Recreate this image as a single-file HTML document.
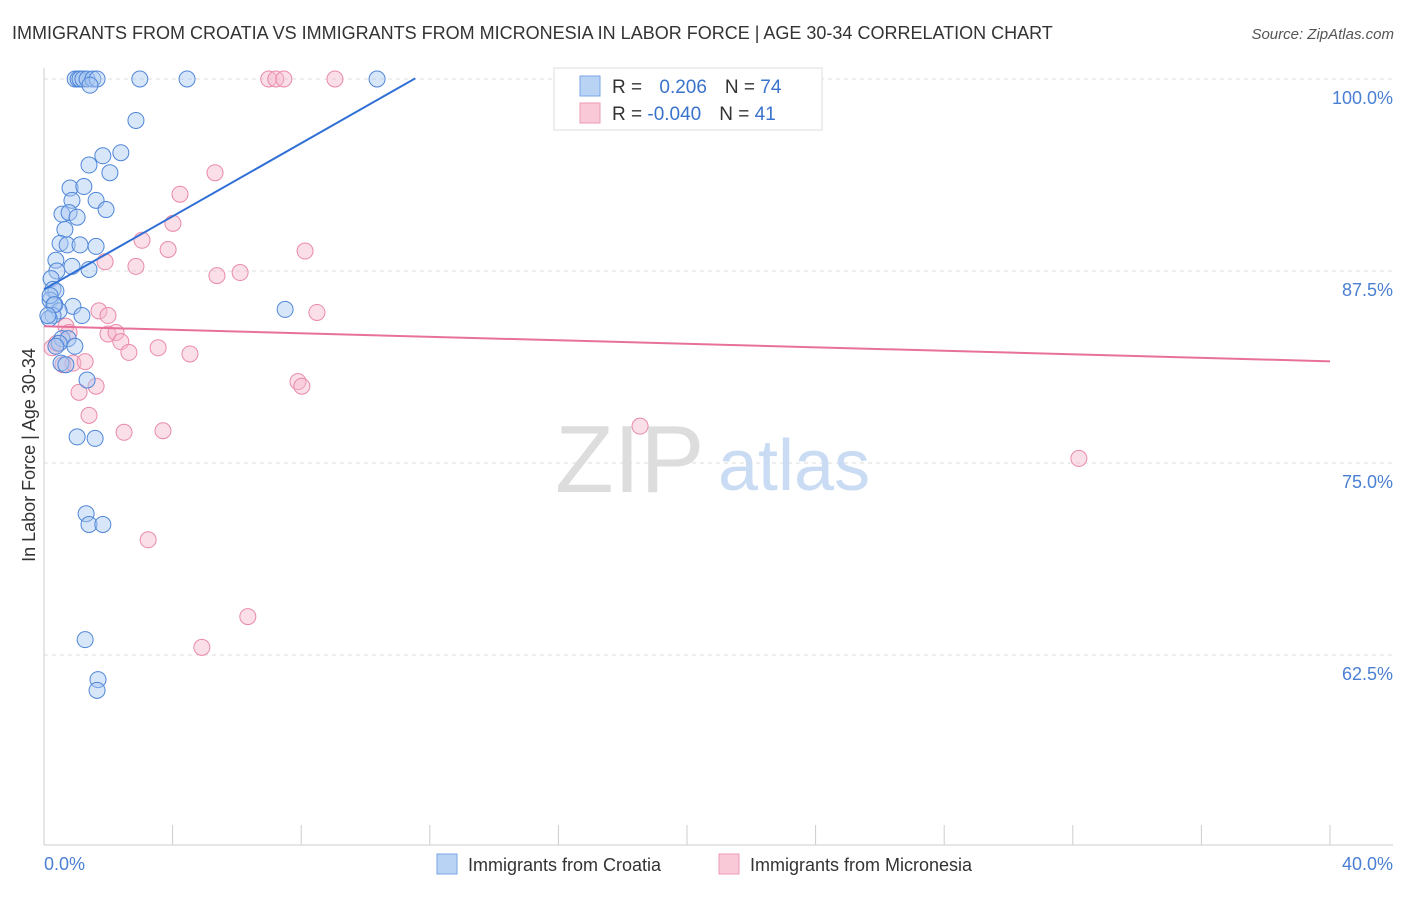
<!DOCTYPE html>
<html><head><meta charset="utf-8"><style>
body{margin:0;background:#fff;font-family:"Liberation Sans",sans-serif;}
svg text{font-family:"Liberation Sans",sans-serif;}
</style></head><body>
<svg width="1406" height="892">
<text x="12" y="39" font-size="18" fill="#333">IMMIGRANTS FROM CROATIA VS IMMIGRANTS FROM MICRONESIA IN LABOR FORCE | AGE 30-34 CORRELATION CHART</text>
<text x="1394" y="39" font-size="15" fill="#555" text-anchor="end" font-style="italic">Source: ZipAtlas.com</text>
<g id="grid"></g>
<line x1="44" y1="68" x2="44" y2="845" stroke="#ccc"/>
<line x1="44" y1="845" x2="1393" y2="845" stroke="#ccc"/>
<text x="35" y="455" font-size="18" fill="#333" text-anchor="middle" transform="rotate(-90 35 455)">In Labor Force | Age 30-34</text>
<text x="555" y="492" font-size="96" fill="#ddd" font-family="Liberation Serif">ZIP</text>
<text x="718" y="490" font-size="72" fill="#c9dcf3">atlas</text>
<g id="pts"></g>
<g id="trend"></g>
<text x="44" y="870" font-size="18" fill="#4a7fd4">0.0%</text>
<text x="1393" y="870" font-size="18" fill="#4a7fd4" text-anchor="end">40.0%</text>
<rect x="554" y="68" width="268" height="62" fill="#fff" stroke="#ddd"/>
<rect x="580" y="76" width="20" height="20" fill="#b9d3f5" stroke="#7aa6e6"/>
<rect x="580" y="103" width="20" height="20" fill="#f9c9d8" stroke="#ee9ab5"/>
<text x="612" y="93" font-size="19" fill="#333">R = <tspan fill="#3a73cc" dx="12">0.206</tspan><tspan dx="18" fill="#333">N = </tspan><tspan fill="#3a73cc">74</tspan></text>
<text x="612" y="120" font-size="19" fill="#333">R = <tspan fill="#3a73cc">-0.040</tspan><tspan dx="18" fill="#333">N = </tspan><tspan fill="#3a73cc">41</tspan></text>
<rect x="437" y="854" width="20" height="20" fill="#b9d3f5" stroke="#7aa6e6"/>
<text x="468" y="871" font-size="18" fill="#333">Immigrants from Croatia</text>
<rect x="719" y="854" width="20" height="20" fill="#f9c9d8" stroke="#ee9ab5"/>
<text x="750" y="871" font-size="18" fill="#333">Immigrants from Micronesia</text>
</svg>
<script>
const yTicks=[100,87.5,75,62.5];
const yTickLabels=["100.0%","87.5%","75.0%","62.5%"];
const xTicks=[0,4,8,12,16,20,24,28,32,36,40];
const croatiaX=[0.97,1.06,1.12,1.21,1.34,1.52,1.65,1.43,2.98,4.45,10.36,2.86,2.39,1.83,1.40,2.05,0.81,1.24,0.87,1.62,1.93,0.56,0.78,1.03,0.65,0.50,0.72,1.12,1.62,0.37,0.87,1.40,0.40,0.22,0.28,0.37,0.19,0.34,0.90,0.47,0.28,1.18,0.16,7.50,0.56,0.75,0.96,0.47,0.53,0.68,1.34,1.03,1.59,1.31,1.40,1.83,1.28,1.68,1.65,0.19,0.31,0.12,0.37];
const croatiaY=[100,100,100,100,100,100,100,99.6,100,100,100,97.3,95.2,95.0,94.4,93.9,92.9,93.0,92.1,92.1,91.5,91.2,91.3,91.0,90.2,89.3,89.2,89.2,89.1,88.2,87.8,87.6,87.5,87.0,86.3,86.2,85.6,85.3,85.2,84.9,84.6,84.6,84.4,85.0,83.1,83.1,82.6,82.8,81.5,81.4,80.4,76.7,76.6,71.7,71.0,71.0,63.5,60.9,60.2,85.9,85.3,84.6,82.6];
const micronesiaX=[0.25,0.40,0.68,0.78,0.59,0.90,1.28,1.09,1.62,1.40,1.99,1.71,1.99,2.24,2.39,2.64,2.49,2.86,3.05,1.90,3.86,4.01,4.23,3.55,3.70,4.54,3.24,4.91,6.34,5.32,5.38,6.10,7.90,8.02,8.12,8.49,6.99,7.21,7.46,9.05,18.54,32.19];
const micronesiaY=[82.5,82.8,83.9,83.5,81.4,81.5,81.6,79.6,80.0,78.1,83.4,84.9,84.6,83.5,82.9,82.2,77.0,87.8,89.5,88.1,88.9,90.6,92.5,82.5,77.1,82.1,70.0,63.0,65.0,93.9,87.2,87.4,80.3,80.0,88.8,84.8,100,100,100,100,77.4,75.3];
const X=v=>44+v*32.15, Y=v=>79+(100-v)*15.36;
const NS="http://www.w3.org/2000/svg";
const grid=document.getElementById('grid'), svg=document.querySelector('svg');
yTicks.forEach((t,i)=>{
 const l=document.createElementNS(NS,'line');
 l.setAttribute('x1',44);l.setAttribute('x2',1393);l.setAttribute('y1',Y(t));l.setAttribute('y2',Y(t));
 l.setAttribute('stroke','#ddd');l.setAttribute('stroke-dasharray','4,4');
 
 
 grid.appendChild(l);
 const tx=document.createElementNS(NS,'text');
 tx.setAttribute('x',1393);tx.setAttribute('y',Y(t)+25);tx.setAttribute('text-anchor','end');
 tx.setAttribute('font-size','18');tx.setAttribute('fill','#4a7fd4');tx.textContent=yTickLabels[i];
 
 
 grid.appendChild(tx);
});
xTicks.forEach(t=>{
 const l=document.createElementNS(NS,'line');
 l.setAttribute('x1',X(t));l.setAttribute('x2',X(t));l.setAttribute('y1',825);l.setAttribute('y2',845);
 l.setAttribute('stroke','#ccc');
 
 
 grid.appendChild(l);
});
const pts=document.getElementById('pts');
function dots(xs,ys,fill,stroke,name){
 xs.forEach((x,i)=>{
  const c=document.createElementNS(NS,'circle');
  c.setAttribute('cx',X(x));c.setAttribute('cy',Y(ys[i]));c.setAttribute('r',8);
  c.setAttribute('fill',fill);c.setAttribute('fill-opacity','0.45');c.setAttribute('stroke',stroke);c.setAttribute('stroke-width','1');
  
  
  pts.appendChild(c);
 });
}
dots(micronesiaX,micronesiaY,'#f7b9cc','#e98aa9','micronesia-point');
dots(croatiaX,croatiaY,'#a9c8f2','#4f86d8','croatia-point');
function fit(xs,ys){const n=xs.length;let mx=0,my=0;xs.forEach((x,i)=>{mx+=x;my+=ys[i];});mx/=n;my/=n;let sxy=0,sxx=0;xs.forEach((x,i)=>{sxy+=(x-mx)*(ys[i]-my);sxx+=(x-mx)**2;});const b=sxy/sxx;return [my-b*mx,b];}
const tr=document.getElementById('trend');
function line(a,b,x0,x1,color,name){
 const l=document.createElementNS(NS,'line');
 l.setAttribute('x1',X(x0));l.setAttribute('y1',Y(a+b*x0));l.setAttribute('x2',X(x1));l.setAttribute('y2',Y(a+b*x1));
 l.setAttribute('stroke',color);l.setAttribute('stroke-width','2');
 
 
 tr.appendChild(l);
}
// trend lines as shown in reference
line(86.3,1.19,0,11.55,'#2f6fd6','croatia-trend-line');
line(83.9,-0.057,0,40,'#e8719b','micronesia-trend-line');
</script>
</body></html>
